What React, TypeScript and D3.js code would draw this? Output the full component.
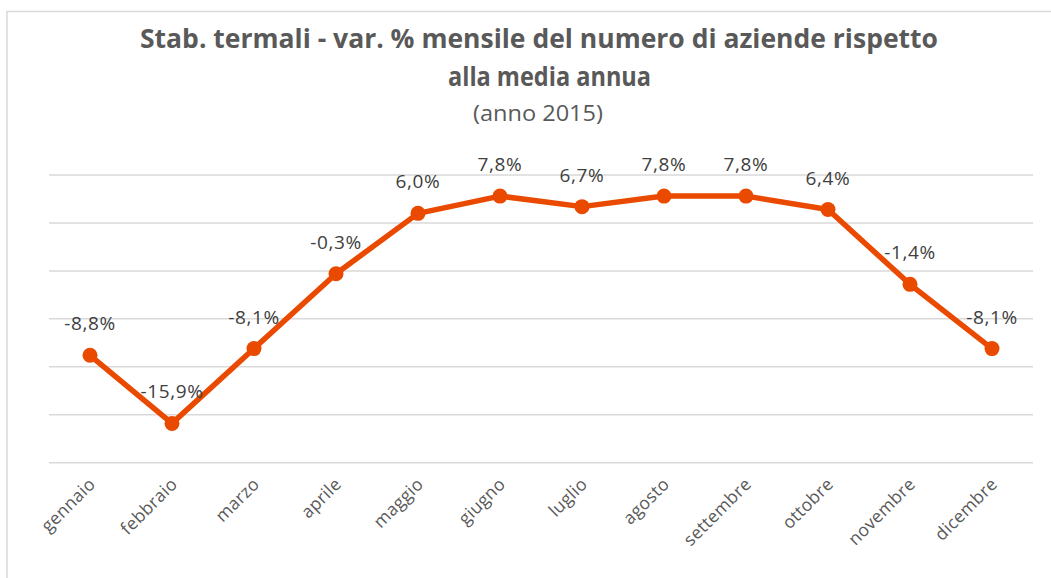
import React from "react";
import * as d3 from "d3";

const months = ["gennaio","febbraio","marzo","aprile","maggio","giugno","luglio","agosto","settembre","ottobre","novembre","dicembre"];
const values = [-8.8, -15.9, -8.1, -0.3, 6.0, 7.8, 6.7, 7.8, 7.8, 6.4, -1.4, -8.1];
const gridTicks = [-20, -15, -10, -5, 0, 5, 10];
const titleLines = ["Stab. termali - var. % mensile del numero di aziende rispetto", "alla media annua"];
const subtitle = "(anno 2015)";

const W = 1051, H = 578;
const FONT = "'Open Sans', 'Noto Sans', sans-serif";

export default function App() {
  const x = d3.scalePoint<string>().domain(months).range([49, 1033]).padding(0.5);
  const y = d3.scaleLinear().domain([-20, 10]).range([462.7, 175]);
  const line = d3.line<number>().x((_, i) => x(months[i])!).y((d) => y(d));
  const fmt = (v: number) => d3.format(".1f")(v).replace(".", ",").replace("−", "-") + "%";

  return (
    <svg width={W} height={H} style={{ position: "absolute", left: 0, top: 0, background: "#fff" }}>
      <rect x={7} y={11.5} width={1100} height={600} fill="#fff" stroke="#d9d9d9" strokeWidth={1.5} />
      <text x={539} y={48} textAnchor="middle" fontFamily={FONT} fontWeight="bold" fontSize={27} fill="#595959"
        textLength={798} lengthAdjust="spacingAndGlyphs">{titleLines[0]}</text>
      <text x={549.5} y={86} textAnchor="middle" fontFamily={FONT} fontWeight="bold" fontSize={27} fill="#595959"
        textLength={203} lengthAdjust="spacingAndGlyphs">{titleLines[1]}</text>
      <text x={538} y={120.5} textAnchor="middle" fontFamily={FONT} fontSize={21} fill="#595959"
        textLength={130} lengthAdjust="spacingAndGlyphs">{subtitle}</text>
      {gridTicks.map((t) => (
        <line key={t} x1={49} x2={1033} y1={y(t)} y2={y(t)} stroke="#d9d9d9" strokeWidth={1.5} />
      ))}
      <path d={line(values) || ""} fill="none" stroke="#EA4A00" strokeWidth={5.5} strokeLinejoin="round" />
      {values.map((v, i) => (
        <circle key={i} cx={x(months[i])} cy={y(v)} r={7.5} fill="#EA4A00" />
      ))}
      {values.map((v, i) => (
        <text key={"l" + i} x={x(months[i])} y={y(v) - 25} textAnchor="middle" fontFamily={FONT} fontSize={19} letterSpacing={0.6} fill="#404040">
          {fmt(v)}
        </text>
      ))}
      {months.map((m, i) => {
        const px = (x(m) as number) + 2;
        const py = 481;
        return (
          <text key={"m" + i} x={px} y={py} dy="0.35em" textAnchor="end" fontFamily={FONT} fontSize={17.5} letterSpacing={0.3} fill="#595959"
            transform={`rotate(-45 ${px} ${py})`}>{m}</text>
        );
      })}
    </svg>
  );
}
